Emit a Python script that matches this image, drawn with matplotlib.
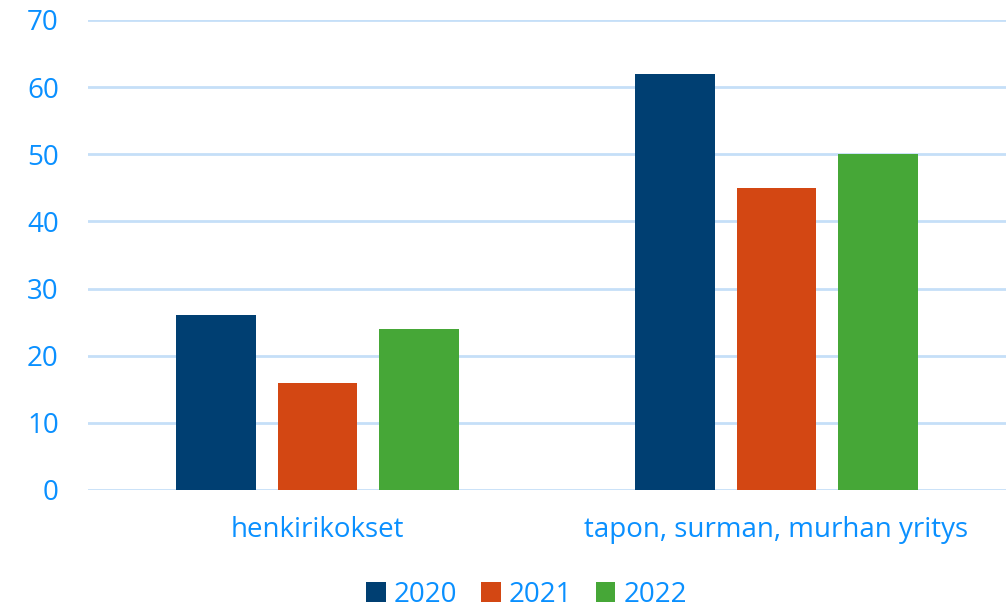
import matplotlib
matplotlib.use("Agg")
import matplotlib.pyplot as plt
import numpy as np

# data
categories = ["henkirikokset", "tapon, surman, murhan yritys"]
years = ["2020", "2021", "2022"]
values_2020 = [26, 62]
values_2021 = [16, 45]
values_2022 = [24, 50]
colors = ["#003F72", "#D34713", "#46A737"]

plt.rcParams['font.family'] = ['Open Sans', 'DejaVu Sans']
text_color = "#0A90FF"
grid_color = "#C5DFF8"

fig = plt.figure(figsize=(10.06, 6.07), dpi=100)
ax = fig.add_axes([88 / 1006, 1 - 490 / 607, 918 / 1006, 470 / 607])

x = np.arange(len(categories))
width = 0.174
step = 0.221
series = [values_2020, values_2021, values_2022]
for i, (vals, year, col) in enumerate(zip(series, years, colors)):
    ax.bar(x + (i - 1) * step, vals, width, color=col, label=year, zorder=3)

ax.set_xlim(-0.5, 1.5)
ax.set_ylim(0, 70)
ax.set_yticks(range(0, 71, 10))
ax.yaxis.grid(True, color=grid_color, linewidth=2, zorder=0)
ax.set_xticks(x)
ax.set_xticklabels(categories)
ax.tick_params(axis='both', length=0, labelsize=20, colors=text_color)
ax.tick_params(axis='y', pad=21)
ax.tick_params(axis='x', pad=19)
for s in ax.spines.values():
    s.set_visible(False)

leg = ax.legend(loc='lower center', bbox_to_anchor=(0.478, -0.276), ncol=3, frameon=False,
                fontsize=20, handlelength=0.7, handleheight=0.7, handletextpad=0.3,
                columnspacing=0.85, borderaxespad=0)
for t in leg.get_texts():
    t.set_color(text_color)

fig.savefig("out.png", dpi=100)
